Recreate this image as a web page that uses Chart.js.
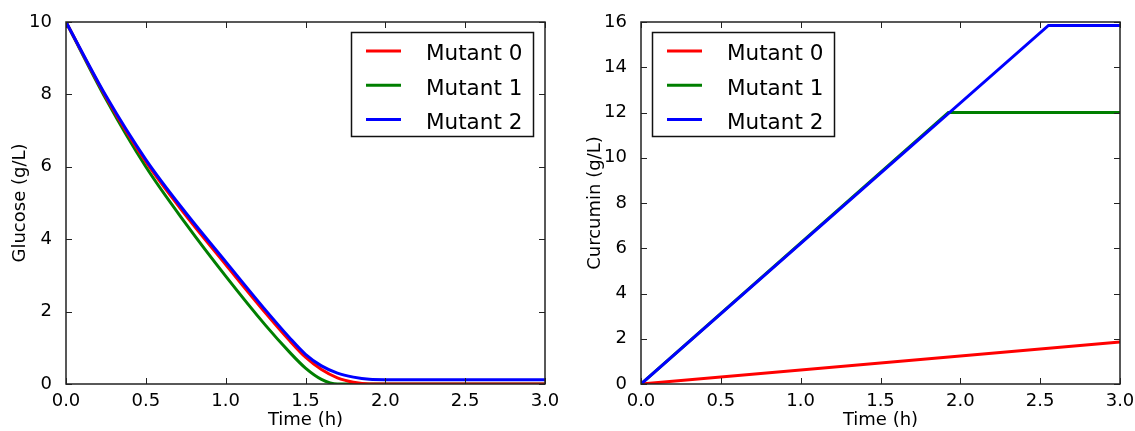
<!DOCTYPE html>
<html>
<head>
<meta charset="utf-8">
<script src="https://cdn.jsdelivr.net/npm/chart.js@4/dist/chart.umd.min.js"></script>
<style>
html,body{margin:0;padding:0;background:#fff;overflow:hidden;width:1135px;height:431px;}
canvas{position:absolute;top:0;}
</style>
</head>
<body>
<canvas id="glucoseChart" width="567" height="431" style="left:0"></canvas>
<canvas id="curcuminChart" width="600" height="431" style="left:567px"></canvas>
<script>
// series names + colours (matplotlib r, g, b)
const seriesNames=["Mutant 0","Mutant 1","Mutant 2"];
const seriesColors=["#ff0000","#007f00","#0000ff"];

// glucose (g/L) over time (h)
const glucoseTime=[0,0.25,0.5,0.75,1.0,1.25,1.4,1.5,1.6,1.7,1.8,1.9,2.0,2.5,3.0];
const glucoseMutant0=[10,7.93,6.14,4.66,3.3,1.96,1.2,0.74,0.4,0.17,0.05,0,0,0,0];
const glucoseMutant1=[10,7.87,6.0,4.43,2.98,1.62,0.88,0.44,0.13,0,0,0,0,0,0];
const glucoseMutant2=[10,7.96,6.2,4.73,3.38,2.04,1.28,0.82,0.5,0.3,0.19,0.13,0.12,0.12,0.12];

// curcumin (g/L) over time (h)
const curcuminTime0=[0,3.0];
const curcuminMutant0=[0,1.86];
const curcuminTime1=[0,1.925,3.0];
const curcuminMutant1=[0,12,12];
const curcuminTime2=[0,2.552,3.0];
const curcuminMutant2=[0,15.85,15.85];

// tick labels
const timeTicks=[0,0.5,1.0,1.5,2.0,2.5,3.0];
const glucoseTicks=[0,2,4,6,8,10];
const curcuminTicks=[0,2,4,6,8,10,12,14,16];

Chart.defaults.font.family="'DejaVu Sans', sans-serif";
Chart.defaults.color="#000";

function points(xs,ys){
    return xs.map((x,i)=>({x:x,y:ys[i]}));
}

// matplotlib style frame, inward ticks and boxed legend
const frameAndLegend={
    id:"frameAndLegend",
    afterDraw(chart,args,opts){
        const ctx=chart.ctx;
        const a=chart.chartArea;
        const xs=chart.scales.x, ys=chart.scales.y;
        ctx.save();
        ctx.strokeStyle="#222";
        ctx.lineWidth=1;
        ctx.beginPath();
        xs.ticks.forEach(t=>{
            const px=Math.round(xs.getPixelForValue(t.value))+0.5;
            ctx.moveTo(px,a.bottom);ctx.lineTo(px,a.bottom-6);
            ctx.moveTo(px,a.top);ctx.lineTo(px,a.top+6);
        });
        ys.ticks.forEach(t=>{
            const py=Math.round(ys.getPixelForValue(t.value))+0.5;
            ctx.moveTo(a.left,py);ctx.lineTo(a.left+6,py);
            ctx.moveTo(a.right,py);ctx.lineTo(a.right-6,py);
        });
        ctx.stroke();
        ctx.lineWidth=1.5;
        ctx.strokeRect(a.left,a.top,a.right-a.left,a.bottom-a.top);

        const w=182,h=104;
        const bx=opts.side==="left"?a.left+11.5:a.right-11.5-w;
        const by=a.top+10.5;
        ctx.fillStyle="#fff";
        ctx.fillRect(bx,by,w,h);
        ctx.strokeStyle="#111";
        ctx.lineWidth=1.5;
        ctx.strokeRect(bx,by,w,h);
        ctx.font="21.5px 'DejaVu Sans'";
        ctx.textAlign="left";
        ctx.textBaseline="alphabetic";
        chart.data.datasets.forEach((ds,i)=>{
            const y=by+18.5+i*34.3;
            ctx.strokeStyle=ds.borderColor;
            ctx.lineWidth=3;
            ctx.beginPath();ctx.moveTo(bx+14.5,y);ctx.lineTo(bx+49.5,y);ctx.stroke();
            ctx.fillStyle="#000";
            ctx.fillText(ds.label,bx+74.5,y+9.3);
        });
        ctx.restore();
    }
};

function makeChart(id,datasets,yTicks,yTitle,side,yWidth,titlePad){
    const canvas=document.getElementById(id);
    return new Chart(canvas,{
        type:"line",
        data:{datasets:datasets},
        plugins:[frameAndLegend],
        options:{
            responsive:false,
            animation:false,
            layout:{padding:{left:0,top:22,right:canvas.width-yWidth-479,bottom:0}},
            elements:{point:{radius:0}},
            plugins:{legend:{display:false},tooltip:{enabled:false},frameAndLegend:{side:side}},
            scales:{
                x:{
                    type:"linear",min:0,max:3,
                    afterBuildTicks:s=>{s.ticks=timeTicks.map(v=>({value:v}));},
                    afterFit:s=>{s.height=47;},
                    grid:{display:false},border:{display:false},
                    ticks:{font:{size:18},padding:-1,maxRotation:0,autoSkip:false,callback:v=>v.toFixed(1)},
                    title:{display:true,text:"Time (h)",font:{size:18},padding:{top:0,bottom:0}}
                },
                y:{
                    min:0,max:yTicks[yTicks.length-1],
                    afterBuildTicks:s=>{s.ticks=yTicks.map(v=>({value:v}));},
                    afterFit:s=>{s.width=yWidth;},
                    grid:{display:false},border:{display:false},
                    ticks:{font:{size:18},padding:6,autoSkip:false,callback:v=>String(v)},
                    title:{display:true,text:yTitle,font:{size:18},padding:{top:titlePad,bottom:0}}
                }
            }
        }
    });
}

const glucoseSets=[glucoseMutant0,glucoseMutant1,glucoseMutant2].map((ys,i)=>({
    label:seriesNames[i],
    data:points(glucoseTime,ys),
    borderColor:seriesColors[i],
    borderWidth:3,
    cubicInterpolationMode:"monotone",
    order:[1,2,0][i]
}));

const curcuminSets=[[curcuminTime0,curcuminMutant0],[curcuminTime1,curcuminMutant1],[curcuminTime2,curcuminMutant2]].map((p,i)=>({
    label:seriesNames[i],
    data:points(p[0],p[1]),
    borderColor:seriesColors[i],
    borderWidth:3,
    tension:0,
    order:[1,2,0][i]
}));

makeChart("glucoseChart",glucoseSets,glucoseTicks,"Glucose (g/L)","right",66,10);
makeChart("curcuminChart",curcuminSets,curcuminTicks,"Curcumin (g/L)","left",74,18);
</script>
</body>
</html>
